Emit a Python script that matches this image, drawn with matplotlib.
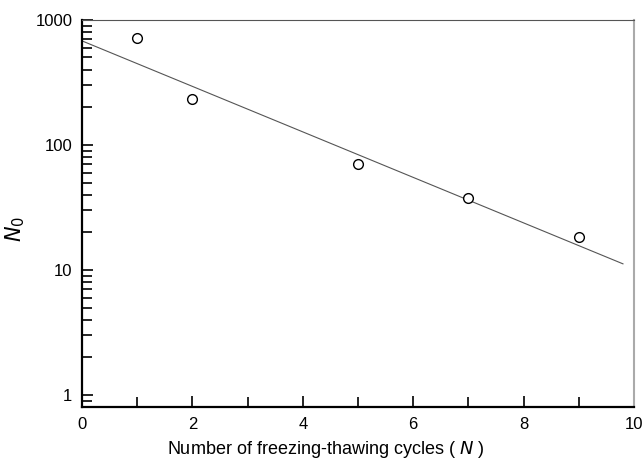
import numpy as np
import matplotlib.pyplot as plt
from matplotlib.ticker import LogLocator, MultipleLocator, FixedLocator

# measured points
cycles = [1, 2, 5, 7, 9]
n0_values = [715, 232, 70, 37.5, 18.3]

# fitted line: log10(N0) = a + b*N
fit_a = 2.832
fit_b = -0.182
fit_range = [0, 9.8]

plt.rcParams['font.family'] = ['Liberation Sans', 'DejaVu Sans']

fig = plt.figure(figsize=(6.43, 4.62), dpi=100)
ax = fig.add_axes([0.1275, 0.119, 0.8585, 0.838])

xf = np.linspace(fit_range[0], fit_range[1], 50)
ax.plot(xf, 10 ** (fit_a + fit_b * xf), color='#555555', lw=0.8)
ax.plot(cycles, n0_values, 'o', mfc='white', mec='black', mew=1.0, ms=7)

ax.set_yscale('log')
ax.set_xlim(0, 10)
ax.set_ylim(0.8, 1000)
ax.xaxis.set_major_locator(MultipleLocator(2))
ax.xaxis.set_minor_locator(MultipleLocator(1))
ax.yaxis.set_major_locator(FixedLocator([1, 10, 100, 1000]))
ax.yaxis.set_minor_locator(LogLocator(base=10, subs=np.arange(2, 10)))
ax.set_yticklabels(['1', '10', '100', '1000'])

ax.tick_params(which='both', direction='in', top=False, right=False,
               labelsize=12, width=1.2, pad=7)
ax.tick_params(which='major', length=8)
ax.tick_params(which='minor', length=7)

ax.spines['left'].set_linewidth(1.6)
ax.spines['bottom'].set_linewidth(1.6)
ax.spines['top'].set_linewidth(0.8)
ax.spines['top'].set_color('#555555')
ax.spines['right'].set_linewidth(1.5)
ax.spines['right'].set_color('#aaaaaa')

ax.set_xlabel('Number of freezing-thawing cycles ( $\\it{N}$ )', fontsize=13, labelpad=6)
ax.xaxis.set_label_coords(0.442, -0.082)
ax.set_ylabel('$\\it{N}_{0}$', fontsize=15, labelpad=2)
ax.yaxis.set_label_coords(-0.1, 0.46)

fig.savefig('out.png', dpi=100)
